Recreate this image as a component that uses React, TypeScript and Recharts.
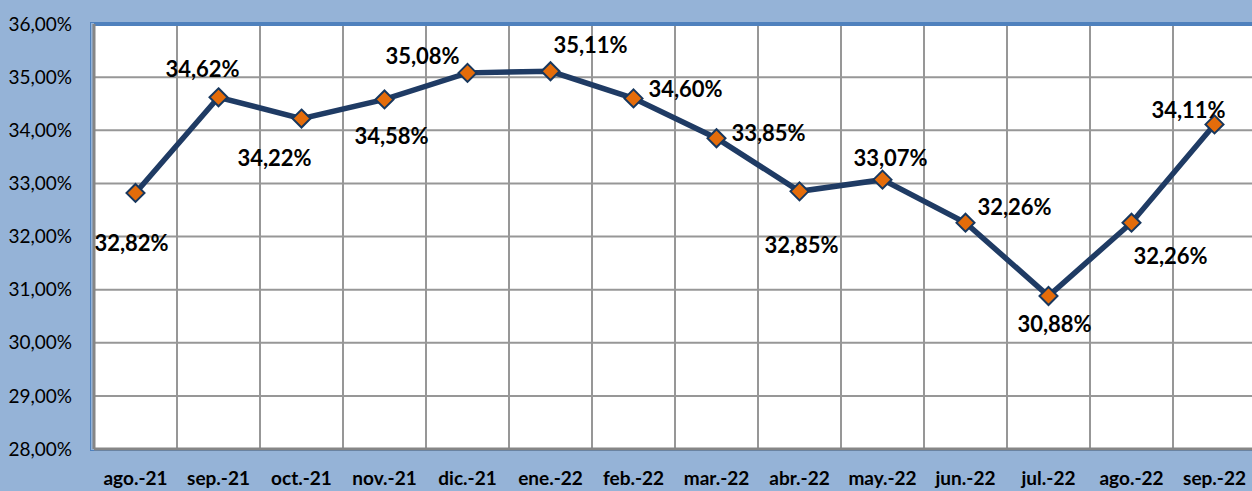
import React from 'react';
import { LineChart, Line, XAxis, YAxis, CartesianGrid, ReferenceLine } from 'recharts';

const categories = ['ago.-21', 'sep.-21', 'oct.-21', 'nov.-21', 'dic.-21', 'ene.-22', 'feb.-22', 'mar.-22', 'abr.-22', 'may.-22', 'jun.-22', 'jul.-22', 'ago.-22', 'sep.-22'];
const values = [32.82, 34.62, 34.22, 34.58, 35.08, 35.11, 34.6, 33.85, 32.85, 33.07, 32.26, 30.88, 32.26, 34.11];
const yTicks = [28, 29, 30, 31, 32, 33, 34, 35, 36];
// label offsets relative to each point (placement only)
const labelDx = [-4, -16, -27, 7, -45, 40, 52, 52, 2, 8, 49, 6, 39, -26];
const labelDy = [50, -29, 39, 36, -17, -27, -10, -6, 53, -22, -16, 27, 33, -15];

const data = categories.map((c, i) => ({ month: c, value: values[i] }));

const fmt = (v: number) => v.toFixed(2).replace('.', ',') + '%';

const Diamond = (props: any) => {
  const { cx, cy, index } = props;
  if (cx == null || cy == null) return <g key={index} />;
  const r = 9;
  return (
    <path
      key={index}
      d={`M${cx},${cy - r} L${cx + r},${cy} L${cx},${cy + r} L${cx - r},${cy} Z`}
      fill="#E46C0A"
      stroke="#17375E"
      strokeWidth={2}
    />
  );
};

const renderLabel = (props: any) => {
  const { x, y, index, value } = props;
  return (
    <text
      key={index}
      x={x + labelDx[index]}
      y={y + labelDy[index]}
      textAnchor="middle"
      dominantBaseline="central"
      fontFamily="Lato, 'Open Sans', sans-serif"
      fontWeight={700}
      fontSize={22}
      fill="#000"
    >
      {fmt(value)}
    </text>
  );
};

export default function App() {
  return (
    <div style={{ position: 'absolute', left: 0, top: 0, width: 1252, height: 491, overflow: 'hidden', background: '#95B3D7' }}>
      <div style={{ position: 'absolute', left: 90, top: 22, width: 2000, height: 429, border: '1px solid #4F81BD', boxSizing: 'border-box' }} />
      <div style={{ position: 'absolute', left: 0, top: 0 }}>
        <LineChart width={1260} height={491} data={data} margin={{ top: 24, right: 4, bottom: 0, left: 0 }}>
          <CartesianGrid
            fill="#FFFFFF"
            stroke="#979797"
            strokeWidth={2}
            verticalCoordinatesGenerator={(p: any) => {
              const off = p.offset;
              const n = categories.length;
              const arr: number[] = [];
              for (let i = 1; i < n; i++) arr.push(off.left + (off.width * i) / n);
              return arr;
            }}
          />
          <XAxis
            dataKey="month"
            scale="band"
            height={42}
            axisLine={{ stroke: '#868686', strokeWidth: 3 }}
            tickLine={false}
            interval={0}
            tick={{ fontFamily: "Lato, 'Open Sans', sans-serif", fontWeight: 700, fontSize: 19, fill: '#000' }}
            dy={15}
          />
          <YAxis
            domain={[28, 36]}
            ticks={yTicks}
            width={94}
            axisLine={{ stroke: '#868686', strokeWidth: 3 }}
            tickLine={false}
            tickFormatter={fmt}
            tick={{ fontFamily: "Lato, 'Open Sans', sans-serif", fontSize: 19, fill: '#000' }}
            dx={-14}
          />
          <ReferenceLine y={36} stroke="#4F81BD" strokeWidth={4} />
          <Line
            type="linear"
            dataKey="value"
            stroke="#1F3B64"
            strokeWidth={5.5}
            dot={Diamond}
            activeDot={false}
            isAnimationActive={false}
            label={renderLabel}
          />
        </LineChart>
      </div>
    </div>
  );
}
